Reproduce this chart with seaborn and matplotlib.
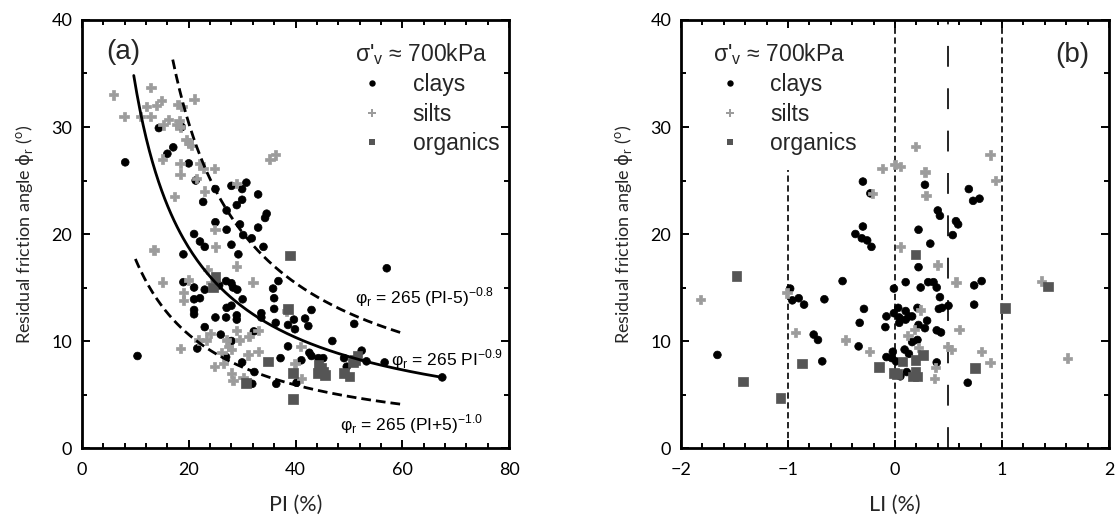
import numpy as np
import pandas as pd
import matplotlib
matplotlib.use("Agg")
import matplotlib.pyplot as plt
from matplotlib.lines import Line2D
from matplotlib.ticker import MultipleLocator
import seaborn as sns

# ---------------- data : panel (a)  PI vs phi_r ----------------
clays_pi = [8.1, 14.4, 18.7, 17.1, 16.0, 20.0, 21.3, 25.0, 28.0, 30.0, 30.8, 33.0, 22.7, 30.0, 27.1,
            29.0, 34.6, 34.3, 25.0, 27.1, 29.6, 33.0, 21.0, 30.2, 31.8,
            22.1, 23.0, 28.0, 34.0, 29.3, 19.0, 19.0, 21.0, 23.0, 21.0, 22.1, 21.0, 21.0, 27.0, 28.0,
            28.3, 29.1, 25.7, 30.1, 28.0, 27.1, 33.6, 35.8, 36.0, 36.0, 36.8, 36.3, 25.0, 27.0, 29.0,
            29.0, 33.6, 23.0, 32.2, 26.0, 28.0, 21.6, 27.0, 30.0, 32.3, 31.0, 31.9, 36.4, 37.2, 10.4,
            57.1, 43.0, 41.8, 39.7, 42.4, 39.9, 38.6, 51.0, 46.9, 38.6, 42.6, 43.0, 44.3, 45.2, 49.1,
            52.4, 53.3, 56.7, 67.5, 41.1, 49.6, 40.2]
clays_phi_a = [26.7, 29.9, 30.0, 28.1, 27.5, 26.6, 25.0, 24.2, 24.5, 24.2, 24.8, 23.7, 23.0, 23.2, 22.2,
               22.7, 21.9, 21.5, 21.1, 20.4, 20.9, 20.6, 20.0, 19.9, 19.6,
               19.3, 18.8, 19.0, 18.8, 18.1, 18.1, 15.5, 15.0, 14.8, 13.9, 14.0, 12.9, 12.5, 15.6, 15.4,
               15.0, 14.8, 15.2, 13.9, 13.3, 13.1, 12.6, 14.9, 14.0, 13.0, 15.6, 11.7, 12.2, 12.2, 12.4,
               12.0, 12.2, 11.3, 10.9, 10.6, 10.0, 9.3, 8.5, 8.0, 7.1, 6.0, 6.0, 6.0, 8.4, 8.6,
               16.8, 12.9, 12.1, 12.0, 11.4, 11.1, 11.5, 11.6, 10.0, 9.5, 8.9, 8.6, 8.4, 8.4, 8.4,
               9.1, 8.1, 8.0, 6.6, 8.2, 7.6, 6.1]

silts_pi = [5.9, 12.9, 7.9, 11.0, 12.9, 12.1, 14.0, 14.9, 18.0, 18.7, 21.0, 16.2, 15.2, 17.7, 18.4,
            18.2, 19.5, 20.5, 19.9, 15.1, 18.4, 18.4, 22.1, 24.8, 22.7, 21.5, 23.0, 29.0, 17.3, 24.9,
            35.2, 36.2, 13.5, 25.0, 23.5, 29.0, 15.1, 19.9, 32.0, 19.0, 19.0, 24.2, 18.5, 21.8, 23.3,
            24.0, 27.1, 27.4, 28.0, 29.0, 29.5, 31.3, 33.0, 26.2, 24.8, 26.5, 28.0, 28.3, 30.2, 31.1,
            33.0, 38.3, 41.0, 39.9, 41.1]
silts_phi_a = [33.0, 33.7, 31.0, 31.0, 31.0, 31.9, 32.0, 32.5, 32.1, 31.9, 32.6, 30.7, 30.2, 30.2, 30.0,
               30.6, 28.8, 28.3, 28.5, 27.0, 26.6, 25.6, 26.6, 26.1, 26.1, 25.2, 24.0, 24.7, 23.5, 20.4,
               27.0, 27.4, 18.5, 18.8, 16.7, 17.0, 15.5, 15.7, 15.5, 14.5, 13.8, 15.5, 9.3, 10.1, 10.1,
               10.7, 10.1, 9.5, 9.2, 11.0, 10.1, 10.4, 11.0, 8.9, 7.6, 7.9, 7.0, 6.3, 6.6, 8.7,
               9.0, 12.8, 9.5, 7.9, 6.5]

organics_pi = [25.0, 24.5, 34.9, 30.7, 39.0, 38.6, 39.5, 39.5, 44.3, 44.9, 44.1, 45.5, 45.2, 49.1,
               50.1, 51.1, 51.6, 50.8]
organics_phi_a = [16.0, 15.0, 8.1, 6.1, 18.0, 13.0, 7.0, 4.6, 7.8, 7.5, 7.0, 6.8, 7.1, 7.0,
                  6.7, 8.2, 8.6, 8.0]

# ---------------- data : panel (b)  LI vs phi_r ----------------
clays_li = [-0.30, -0.23, 0.28, -0.37, -0.31, -0.30, -0.26, -0.22, 0.22, 0.40, 0.42, 0.57, 0.59, 0.54,
            0.69, 0.73, 0.79,
            -1.66, -0.98, -0.96, -0.90, -0.85, -0.66, -0.76, -0.72, -0.68, -0.49, -0.29, -0.33, -0.34,
            0.33, 0.22, 0.10, -0.01, 0.24, 0.31, 0.36, 0.39, 0.42, 0.41, 0.44, 0.50, 0.74, 0.81, 0.74,
            -0.08, -0.09, -0.01, 0.03, 0.04, 0.04, 0.10, 0.10, 0.16, 0.13, 0.21, 0.22, 0.30, 0.28, 0.16,
            0.21, 0.39, 0.43, -0.08, -0.03, -0.02, 0.09, 0.13, 0.01, 0.05, 0.11, 0.39, 0.68]
clays_phi_b = [24.9, 23.8, 24.6, 20.0, 19.6, 20.7, 19.4, 18.8, 20.4, 22.2, 21.7, 21.2, 20.9, 19.9,
               24.2, 23.1, 23.3,
               8.7, 14.9, 13.8, 14.0, 13.4, 13.9, 10.6, 10.1, 8.1, 15.6, 13.0, 11.7, 9.5,
               19.1, 16.9, 15.5, 14.9, 15.0, 15.5, 15.5, 15.0, 14.1, 13.0, 13.1, 13.3, 15.2, 15.6, 13.4,
               12.3, 11.3, 12.6, 13.1, 12.2, 11.7, 12.8, 12.0, 12.3, 12.3, 13.1, 11.5, 11.9, 11.2, 9.9,
               10.1, 11.0, 10.8, 8.5, 8.4, 9.0, 9.2, 8.8, 8.1, 6.7, 7.1, 8.0, 6.1]

silts_li = [-0.12, 0.00, 0.05, 0.19, 0.28, 0.29, -0.21, 0.89, 0.94, -1.82, -1.01, -0.93, -0.46, 0.05,
            0.40, 0.57, 0.24, 0.18, 0.12, 0.60, 0.22, 0.49, 0.53, 0.81, 0.89, -0.24, 0.38, 0.37,
            1.37, 1.61]
silts_phi_b = [26.1, 26.5, 26.3, 28.2, 25.8, 23.6, 23.8, 27.4, 25.0, 13.9, 14.5, 10.8, 10.1, 18.8,
               17.1, 15.5, 12.9, 11.1, 10.5, 11.1, 9.4, 9.5, 9.2, 9.0, 8.0, 9.0, 7.5, 6.5,
               15.6, 8.4]

organics_li = [-1.48, -1.42, -1.07, -0.87, 0.19, -0.15, -0.01, 0.02, 0.07, 0.19, 0.26, 0.19, 0.17,
               0.21, 0.75, 1.03, 1.43]
organics_phi_b = [16.1, 6.2, 4.7, 7.9, 18.1, 7.6, 7.0, 6.9, 8.1, 8.2, 8.7, 7.1, 6.7,
                  6.7, 7.5, 13.1, 15.1]

# trend curves of panel (a): coefficient, shift, exponent, PI range
curve_mid = dict(coef=244.0, shift=0.0, expo=-0.857, start=9.7, end=67.5)
curve_up = dict(coef=265.0, shift=-5.0, expo=-0.8, start=17.0, end=60.0)
curve_low = dict(coef=265.0, shift=5.0, expo=-1.0, start=10.0, end=60.0)

# reference lines of panel (b): LI position and top of line
vline_li = [-1.0, 0.0, 1.0, 0.5]
vline_top = [26.0, 40.0, 40.0, 40.0]

soil_types = ["clays", "silts", "organics"]

# ---------------- style ----------------
sns.set_style("ticks")
plt.rcParams["font.family"] = ["Lato", "DejaVu Sans"]
plt.rcParams["mathtext.fontset"] = "dejavusans"
plt.rcParams["lines.scale_dashes"] = False

palette = {"clays": "#000000", "silts": "#9c9c9c", "organics": "#555555"}
markers = {"clays": "o", "silts": "P", "organics": "s"}
sizes = {"clays": 31, "silts": 46, "organics": 48}


def frame(y_by_type, xs_by_type, xname):
    parts = []
    for t in soil_types:
        parts.append(pd.DataFrame({xname: xs_by_type[t], "phi": y_by_type[t], "type": t}))
    return pd.concat(parts, ignore_index=True)


df_a = frame({"clays": clays_phi_a, "silts": silts_phi_a, "organics": organics_phi_a},
             {"clays": clays_pi, "silts": silts_pi, "organics": organics_pi}, "PI")
df_b = frame({"clays": clays_phi_b, "silts": silts_phi_b, "organics": organics_phi_b},
             {"clays": clays_li, "silts": silts_li, "organics": organics_li}, "LI")

fig = plt.figure(figsize=(11.17, 5.18), dpi=100)
ax1 = fig.add_axes([0.0734, 0.1351, 0.3823, 0.8263])
ax2 = fig.add_axes([0.6097, 0.1351, 0.3831, 0.8263])

for ax, df, xname in ((ax1, df_a, "PI"), (ax2, df_b, "LI")):
    sns.scatterplot(data=df, x=xname, y="phi", hue="type", style="type", size="type",
                    palette=palette, markers=markers, sizes=sizes, linewidth=0.5,
                    edgecolor="face", legend=False, ax=ax, zorder=3)

# trend curves (a)
for c, ls in ((curve_mid, "-"), (curve_up, (0, (7, 3.6))), (curve_low, (0, (7, 3.6)))):
    pi = np.linspace(c["start"], c["end"], 200)
    ax1.plot(pi, c["coef"] * (pi + c["shift"]) ** c["expo"], color="black", lw=2.0,
             linestyle=ls, zorder=4)

# vertical lines (b)
for xv, top in zip(vline_li, vline_top):
    ls = (0, (15, 15.5)) if xv == 0.5 else (0, (4.5, 2.6))
    ax2.plot([xv, xv], [0, top], color="black", lw=1.2, linestyle=ls, zorder=2)

eq_font = dict(family=["Liberation Sans", "DejaVu Sans"], fontsize=12.5, color="black")
ax1.text(51.1, 14.1, "φ$_\\mathregular{r}$ = 265 (PI-5)$^\\mathregular{-0.8}$", ha="left", va="center", **eq_font)
ax1.text(57.8, 8.3, "φ$_\\mathregular{r}$ = 265 PI$^\\mathregular{-0.9}$", ha="left", va="center", **eq_font)
ax1.text(48.3, 2.2, "φ$_\\mathregular{r}$ = 265 (PI+5)$^\\mathregular{-1.0}$", ha="left", va="center", **eq_font)

lab_font = dict(family=["Liberation Sans", "DejaVu Sans"], fontsize=20)
ax1.text(0.096, 0.925, "(a)", transform=ax1.transAxes, ha="center", va="center", **lab_font)
ax2.text(0.914, 0.918, "(b)", transform=ax2.transAxes, ha="center", va="center", **lab_font)

handles = [
    Line2D([], [], ls="", marker="o", color=palette["clays"], markersize=4.6, markeredgewidth=0),
    Line2D([], [], ls="", marker="P", color=palette["silts"], markersize=5.4, markeredgewidth=0),
    Line2D([], [], ls="", marker="s", color=palette["organics"], markersize=5.0, markeredgewidth=0),
]
leg_title = "σ'$_\\mathregular{v}$ ≈ 700kPa"
for ax, anchor in ((ax1, (0.64, 0.95)), (ax2, (0.075, 0.95))):
    leg = ax.legend(handles, soil_types, title=leg_title, loc="upper left", bbox_to_anchor=anchor,
                    frameon=False, borderaxespad=0, borderpad=0, handlelength=1.5,
                    handletextpad=1.0, labelspacing=0.27, alignment="left",
                    prop=dict(family=["Liberation Sans", "DejaVu Sans"], size=16.5),
                    title_fontproperties=dict(family=["Liberation Sans", "DejaVu Sans"], size=16.5))

ax1.set_xlim(0, 80)
ax2.set_xlim(-2, 2)
for ax in (ax1, ax2):
    ax.set_ylim(0, 40)
    ax.yaxis.set_major_locator(MultipleLocator(10))
    ax.yaxis.set_minor_locator(MultipleLocator(5))
    ax.tick_params(which="both", direction="in", top=True, right=True, width=1.4,
                   labelsize=13, colors="black")
    ax.tick_params(which="major", length=6)
    ax.tick_params(which="minor", length=3.5)
    ax.tick_params(axis="y", which="major", pad=7)
    ax.tick_params(axis="x", which="major", pad=10)
    for sp in ax.spines.values():
        sp.set_linewidth(2.0)
        sp.set_color("black")
    ax.set_ylabel("Residual friction angle $\\mathrm{\\phi}_\\mathregular{r}$ ($^\\mathregular{o}$)",
                  fontsize=13, labelpad=11)
ax1.xaxis.set_major_locator(MultipleLocator(20))
ax1.xaxis.set_minor_locator(MultipleLocator(4))
ax2.xaxis.set_major_locator(MultipleLocator(1))
ax2.xaxis.set_minor_locator(MultipleLocator(0.2))
ax1.set_xlabel("PI (%)", fontsize=15.5, labelpad=12)
ax2.set_xlabel("LI (%)", fontsize=15.5, labelpad=12)

fig.savefig("out.png", dpi=100)
